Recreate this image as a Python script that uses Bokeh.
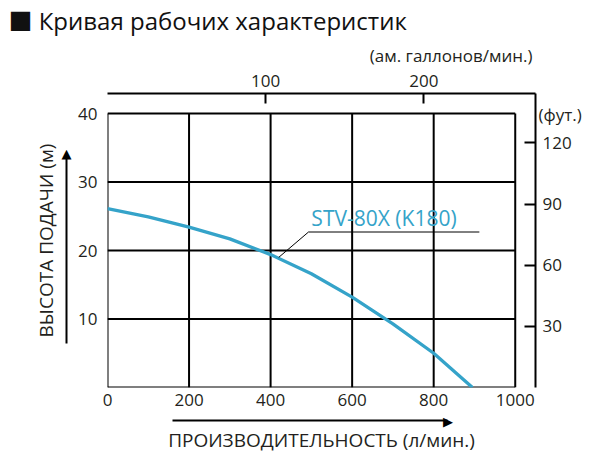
from bokeh.plotting import figure
from bokeh.models import Range1d, LinearAxis, FixedTicker, Label, Title
from bokeh.embed import file_html
from bokeh.resources import INLINE

# ---- data ----
flow_lpm = [0, 100, 200, 300, 400, 500, 600, 700, 800, 895]
head_m = [26.1, 24.9, 23.4, 21.7, 19.4, 16.6, 13.2, 9.3, 5.0, 0.0]
series_name = "STV-80X (K180)"

x_ticks = [0, 200, 400, 600, 800, 1000]
y_ticks = [10, 20, 30, 40]
gal_ticks = [100, 200]
ft_ticks = [30, 60, 90, 120]

L_PER_GAL = 3.88   # conversion used by the secondary (top) scale
FT_PER_M = 3.36    # conversion used by the secondary (right) scale

X_MAX, Y_MAX = 1000, 40
# the plot area reaches a little past the grid, up to the secondary scale lines
X_END, Y_END = 1049.7, 42.92

FONT = "Open Sans"
TXT = "#231f20"
BLUE = "#35a3c9"

p = figure(width=584, height=458,
           x_range=Range1d(0, X_END), y_range=Range1d(0, Y_END),
           toolbar_location=None, output_backend="svg",
           min_border_left=107, min_border_right=44, min_border_top=93, min_border_bottom=71)
p.outline_line_color = None
p.xgrid.visible = False
p.ygrid.visible = False

p.title.text = "■ Кривая рабочих характеристик"
p.title.text_font = "'Open Sans', 'Noto Sans CJK JP'"
p.title.text_font_size = "24px"
p.title.text_font_style = "normal"
p.title.text_color = "#111111"
p.title.align = "left"
p.title.offset = -99
p.title.standoff = 0

# grid box drawn from the tick values
p.segment(x0=x_ticks, y0=[0] * len(x_ticks), x1=x_ticks, y1=[Y_MAX] * len(x_ticks),
          line_color="black", line_width=2)
hy = [0] + y_ticks
p.segment(x0=[0] * len(hy), y0=hy, x1=[X_MAX] * len(hy), y1=hy, line_color="black", line_width=2)

# curve
p.line(flow_lpm, head_m, line_color=BLUE, line_width=3.3)

# leader line and series label
p.line([420, 493, 912], [19.0, 22.7, 22.7], line_color="black", line_width=1)
p.add_layout(Label(x=500, y=24.7, text=series_name, text_font=FONT, text_font_size="21px",
                   text_color=BLUE, text_baseline="middle", text_align="left"))

def style_axis(ax):
    ax.major_label_text_font = FONT
    ax.major_label_text_font_size = "17px"
    ax.major_label_text_color = TXT
    ax.axis_label_text_font = FONT
    ax.axis_label_text_font_size = "19px"
    ax.axis_label_text_font_style = "normal"
    ax.axis_label_text_color = TXT
    ax.minor_tick_line_color = None
    ax.minor_tick_out = 0
    ax.minor_tick_in = 0
    ax.major_tick_out = 0

def style_arrow_axis(ax):
    style_axis(ax)
    ax.axis_line_width = 2
    ax.axis_line_color = "black"
    ax.major_tick_line_color = None
    ax.major_label_text_font = "DejaVu Sans"
    ax.major_label_text_font_size = "13px"
    ax.major_label_text_color = "black"

# bottom scale: tick labels only
xa = p.xaxis[0]
xa.ticker = FixedTicker(ticks=x_ticks)
style_axis(xa)
xa.axis_line_color = None
xa.major_tick_line_color = None
xa.major_label_standoff = 6
xa.axis_label = " "
xa.axis_label_text_font_size = "1px"
xa.axis_label_standoff = 8

# bottom title with its direction arrow (line limited to the arrow span, head at its end)
X_ARROW = (160, 835)
x_title = LinearAxis(ticker=FixedTicker(ticks=[X_ARROW[1]]), bounds=X_ARROW,
                     major_label_overrides={X_ARROW[1]: "▶"},
                     axis_label="ПРОИЗВОДИТЕЛЬНОСТЬ (л/мин.)")
style_arrow_axis(x_title)
x_title.major_label_standoff = -7
x_title.axis_label_standoff = -5
p.add_layout(x_title, "below")

# left scale: tick labels only
ya = p.yaxis[0]
ya.ticker = FixedTicker(ticks=y_ticks)
style_axis(ya)
ya.axis_line_color = None
ya.major_tick_line_color = None
ya.major_label_standoff = 10
ya.axis_label = " "
ya.axis_label_text_font_size = "1px"
ya.axis_label_standoff = 4

# left title with its direction arrow
Y_ARROW = (6.4, 34.2)
y_title = LinearAxis(ticker=FixedTicker(ticks=[Y_ARROW[1]]), bounds=Y_ARROW,
                     major_label_overrides={Y_ARROW[1]: "▲"},
                     axis_label="ВЫСОТА ПОДАЧИ (м)")
style_arrow_axis(y_title)
y_title.major_label_standoff = -5
y_title.axis_label_standoff = 0
p.add_layout(y_title, "left")

# secondary scales
p.extra_x_ranges = {"gal": Range1d(0, X_END / L_PER_GAL)}
p.extra_y_ranges = {"ft": Range1d(0, Y_END * FT_PER_M)}

top = LinearAxis(x_range_name="gal", ticker=FixedTicker(ticks=gal_ticks))
style_axis(top)
top.axis_line_width = 2
top.major_tick_line_width = 2
top.major_tick_in = 10
top.major_label_standoff = 7
p.add_layout(top, "above")

p.add_layout(Title(text="(ам. галлонов/мин.)", align="right", offset=3, standoff=10,
                   text_font=FONT, text_font_size="17px", text_font_style="normal",
                   text_color=TXT), "above")

right = LinearAxis(y_range_name="ft", ticker=FixedTicker(ticks=ft_ticks))
style_axis(right)
right.axis_line_width = 2
right.major_tick_line_width = 2
right.major_tick_in = 11
right.major_label_standoff = 7
p.add_layout(right, "right")

# unit caption of the right scale, shown above its top tick
ft_unit = LinearAxis(y_range_name="ft", ticker=FixedTicker(ticks=[134]),
                     major_label_overrides={134: "(фут.)"})
style_axis(ft_unit)
ft_unit.axis_line_color = None
ft_unit.major_tick_line_color = None
ft_unit.major_label_standoff = -36
p.add_layout(ft_unit, "right")

open("out.html", "w").write(file_html(p, INLINE))
